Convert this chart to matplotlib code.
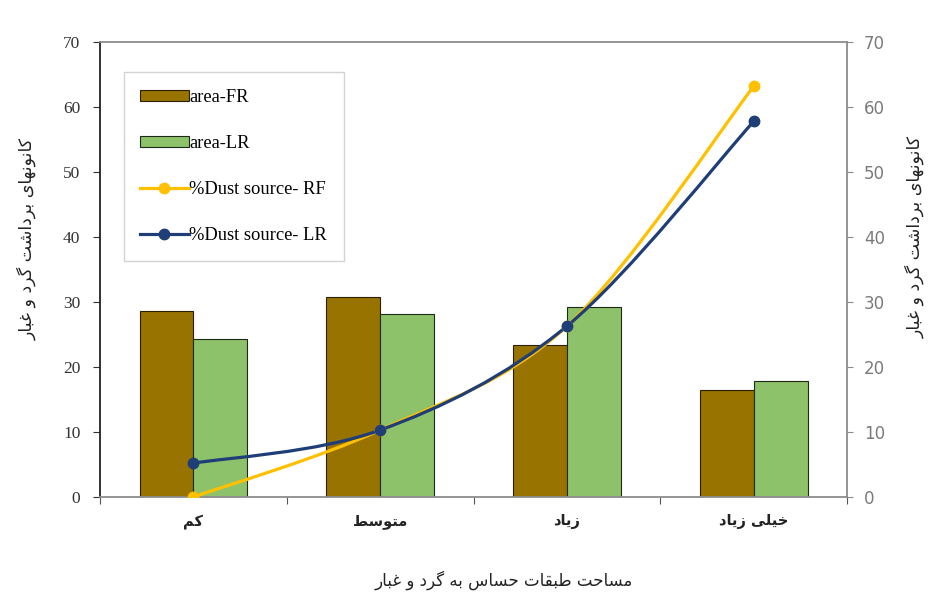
import numpy as np
from matplotlib import pyplot as plt
from matplotlib.path import Path
from matplotlib.patches import PathPatch, Patch
from matplotlib.lines import Line2D

# Persian labels (logical order, shaped below for drawing)
categories = ['کم', 'متوسط', 'زیاد', 'خیلی زیاد']
xlabel = 'مساحت طبقات حساس به گرد و غبار'
ylabel = 'کانونهای برداشت گرد و غبار'

area_fr = [28.6, 30.8, 23.4, 16.5]
area_lr = [24.3, 28.2, 29.2, 17.8]
dust_rf = [0.0, 10.3, 26.3, 63.2]
dust_lr = [5.2, 10.3, 26.3, 57.8]

# presentation forms: isolated, final, initial, medial
forms = {
    'ا': (0xFE8D, 0xFE8E), 'د': (0xFEA9, 0xFEAA), 'ر': (0xFEAD, 0xFEAE),
    'ز': (0xFEAF, 0xFEB0), 'و': (0xFEED, 0xFEEE),
    'ب': (0xFE8F, 0xFE90, 0xFE91, 0xFE92), 'ت': (0xFE95, 0xFE96, 0xFE97, 0xFE98),
    'ح': (0xFEA1, 0xFEA2, 0xFEA3, 0xFEA4), 'خ': (0xFEA5, 0xFEA6, 0xFEA7, 0xFEA8),
    'س': (0xFEB1, 0xFEB2, 0xFEB3, 0xFEB4), 'ش': (0xFEB5, 0xFEB6, 0xFEB7, 0xFEB8),
    'ط': (0xFEC1, 0xFEC2, 0xFEC3, 0xFEC4), 'غ': (0xFECD, 0xFECE, 0xFECF, 0xFED0),
    'ق': (0xFED5, 0xFED6, 0xFED7, 0xFED8), 'ل': (0xFEDD, 0xFEDE, 0xFEDF, 0xFEE0),
    'م': (0xFEE1, 0xFEE2, 0xFEE3, 0xFEE4), 'ن': (0xFEE5, 0xFEE6, 0xFEE7, 0xFEE8),
    'ه': (0xFEE9, 0xFEEA, 0xFEEB, 0xFEEC), 'ک': (0xFB8E, 0xFB8F, 0xFB90, 0xFB91),
    'گ': (0xFB92, 0xFB93, 0xFB94, 0xFB95), 'ی': (0xFBFC, 0xFBFD, 0xFBFE, 0xFBFF),
}


def shape(s):
    out = []
    for i, c in enumerate(s):
        if c not in forms:
            out.append(c)
            continue
        prev = s[i - 1] if i > 0 else ' '
        nxt = s[i + 1] if i + 1 < len(s) else ' '
        jp = prev in forms and len(forms[prev]) == 4
        jn = len(forms[c]) == 4 and nxt in forms
        if jp and jn:
            k = 3
        elif jn:
            k = 2
        elif jp:
            k = 1
        else:
            k = 0
        out.append(chr(forms[c][k]))
    return ''.join(out)[::-1]


def smooth_path(xs, ys, t=1 / 6):
    # cubic bezier through the points (catmull-rom style)
    pts = np.column_stack([xs, ys])
    verts = [pts[0]]
    codes = [Path.MOVETO]
    n = len(pts)
    for i in range(n - 1):
        p0 = pts[max(i - 1, 0)]
        p1 = pts[i]
        p2 = pts[i + 1]
        p3 = pts[min(i + 2, n - 1)]
        verts += [p1 + (p2 - p0) * t, p2 - (p3 - p1) * t, p2]
        codes += [Path.CURVE4] * 3
    return Path(verts, codes)


fig = plt.figure(figsize=(9.34, 6.01), dpi=100)
ax = fig.add_axes([0.107, 0.173, 0.8, 0.757])
x = np.arange(len(categories))
w = 0.288
ax.bar(x - w / 2, area_fr, w, color='#987300', edgecolor='#2a2000', linewidth=0.8, zorder=2)
ax.bar(x + w / 2, area_lr, w, color='#8dc26a', edgecolor='#1e2a14', linewidth=0.8, zorder=2)

yellow = '#ffc000'
navy = '#1f3e78'
for ys, col in [(dust_rf, yellow), (dust_lr, navy)]:
    ax.add_patch(PathPatch(smooth_path(x, ys), fill=False, edgecolor=col, lw=2.3, zorder=3))
    ax.plot(x, ys, 'o', color=col, ms=7.5, zorder=4)

ax.set_xlim(-0.5, 3.5)
ax.set_ylim(0, 70)
ax.set_yticks(range(0, 71, 10))
ax.set_xticks(np.arange(-0.5, 3.6, 1))
ax.set_xticklabels([])
ax.tick_params(axis='x', length=5, color='#555555')
ax.tick_params(axis='y', length=5, direction='out', labelsize=12.5, colors='#333333', pad=9)
for lab in ax.get_yticklabels():
    lab.set_family('Liberation Serif')
for i, c in enumerate(categories):
    ax.text(i, -3.8, shape(c), ha='center', va='center', fontsize=10.5,
            family='DejaVu Sans', fontweight='bold', color='#222222')

ax.spines['left'].set_color('#222222')
ax.spines['left'].set_linewidth(1.3)
for s in ['top', 'right', 'bottom']:
    ax.spines[s].set_color('#8c8c8c')
    ax.spines[s].set_linewidth(1.3)

ax2 = ax.twinx()
ax2.set_ylim(0, 70)
ax2.set_yticks(range(0, 71, 10))
ax2.tick_params(axis='y', length=4, labelsize=12, colors='#8c8c8c', labelcolor='#7a7a7a', pad=8)
for s in ax2.spines.values():
    s.set_visible(False)

fig.text(0.539, 0.035, shape(xlabel), ha='center', va='center', fontsize=12, color='#222222')
fig.text(0.029, 0.602, shape(ylabel), rotation=90, ha='center', va='center', fontsize=12.5, color='#222222')
fig.text(0.980, 0.605, shape(ylabel), rotation=90, ha='center', va='center', fontsize=12.5, color='#222222')

handles = [
    Patch(facecolor='#987300', edgecolor='#2a2000', linewidth=0.8),
    Patch(facecolor='#8dc26a', edgecolor='#1e2a14', linewidth=0.8),
    Line2D([], [], color=yellow, lw=2.3, marker='o', ms=7.5),
    Line2D([], [], color=navy, lw=2.3, marker='o', ms=7.5),
]
labels = ['area-FR', 'area-LR', '%Dust source- RF', '%Dust source- LR']
leg = ax.legend(handles, labels, loc='upper left', bbox_to_anchor=(0.032, 0.934),
                frameon=True, fancybox=False, edgecolor='#c8c8c8', labelspacing=1.58,
                handlelength=2.6, handleheight=0.55, handletextpad=0.05, borderpad=0.9,
                borderaxespad=0, prop={'family': 'Liberation Serif', 'size': 13.3})
leg.get_frame().set_linewidth(1.0)

fig.savefig('out.png', dpi=100)
